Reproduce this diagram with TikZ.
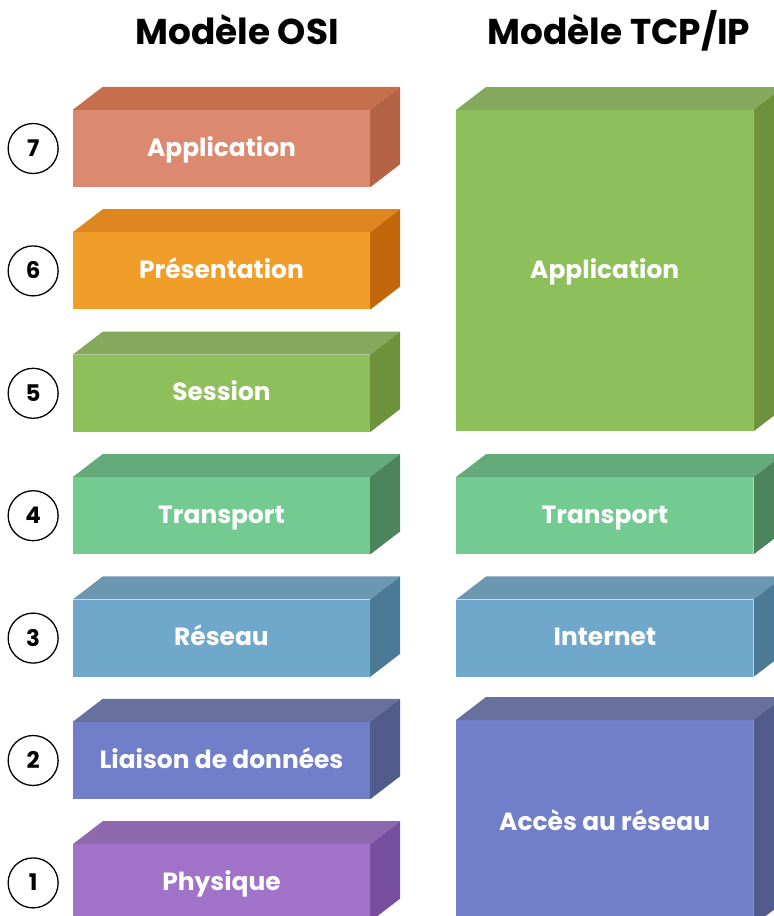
\documentclass[tikz,border=0pt]{standalone}
\usepackage{fontspec}
\setmainfont{Poppins}
\usetikzlibrary{positioning}

% layer colours: front, top, side
\definecolor{appF}{RGB}{219,138,111}  \definecolor{appT}{RGB}{197,111,76}  \definecolor{appS}{RGB}{182,98,68}
\definecolor{preF}{RGB}{240,157,42}   \definecolor{preT}{RGB}{222,134,32}  \definecolor{preS}{RGB}{194,104,12}
\definecolor{sesF}{RGB}{141,191,90}   \definecolor{sesT}{RGB}{133,169,92}  \definecolor{sesS}{RGB}{110,145,60}
\definecolor{traF}{RGB}{116,203,146}  \definecolor{traT}{RGB}{100,170,122} \definecolor{traS}{RGB}{76,132,92}
\definecolor{resF}{RGB}{112,168,203}  \definecolor{resT}{RGB}{108,151,176} \definecolor{resS}{RGB}{74,122,150}
\definecolor{liaF}{RGB}{113,126,202}  \definecolor{liaT}{RGB}{104,112,157} \definecolor{liaS}{RGB}{81,91,140}
\definecolor{phyF}{RGB}{160,115,201}  \definecolor{phyT}{RGB}{141,104,175} \definecolor{phyS}{RGB}{120,79,158}

\tikzset{
  layer/.style={rectangle, inner sep=0pt, minimum width=297bp, minimum height=77bp,
    text height=15bp, text depth=0pt,
    text=white, font=\bfseries\fontsize{25}{30}\selectfont},
  num/.style={circle, draw, line width=1.3bp, minimum size=50bp, inner sep=0pt,
    text height=16bp, text depth=0pt,
    font=\bfseries\fontsize{23}{26}\selectfont},
  title/.style={font=\bfseries\fontsize{36}{42}\selectfont}
}

% top and right faces of a block: node, top colour, side colour
\newcommand{\faces}[3]{
  \fill[#2] (#1.north west) -- ++(30,-23) -- ([shift={(30,-23)}]#1.north east) -- (#1.north east) -- cycle;
  \fill[#3] (#1.north east) -- ++(30,-23) -- ([shift={(30,-23)}]#1.south east) -- (#1.south east) -- cycle;
}

\begin{document}
\begin{tikzpicture}[x=1bp, y=-1bp]
  \useasboundingbox (0,0) rectangle (774,916);
  \clip (0,0) rectangle (774,916);

  % titles
  \node[title, anchor=base] (osititle) at (237,44) {Modèle OSI};
  \node[title, anchor=base] (tcptitle) at (619,44) {Modèle TCP/IP};

  % OSI stack
  \node[layer, fill=appF] (osiapp) at (221.5,148.5) {Application};
  \node[layer, fill=preF, below=45bp of osiapp] (osipre) {Présentation};
  \node[layer, fill=sesF, below=45bp of osipre] (osises) {Session};
  \node[layer, fill=traF, below=45bp of osises] (ositra) {Transport};
  \node[layer, fill=resF, below=45bp of ositra] (osires) {Réseau};
  \node[layer, fill=liaF, below=45bp of osires] (osilia) {Liaison de données};
  \node[layer, fill=phyF, below=45bp of osilia] (osiphy) {Physique};
  \faces{osiapp}{appT}{appS}
  \faces{osipre}{preT}{preS}
  \faces{osises}{sesT}{sesS}
  \faces{ositra}{traT}{traS}
  \faces{osires}{resT}{resS}
  \faces{osilia}{liaT}{liaS}
  \faces{osiphy}{phyT}{phyS}

  % layer numbers
  \node[num, left=14bp of osiapp] (n7) {7};
  \node[num, left=14bp of osipre] (n6) {6};
  \node[num, left=14bp of osises] (n5) {5};
  \node[num, left=14bp of ositra] (n4) {4};
  \node[num, left=14bp of osires] (n3) {3};
  \node[num, left=14bp of osilia] (n2) {2};
  \node[num, left=14bp of osiphy] (n1) {1};

  % TCP/IP stack
  \node[layer, fill=sesF, minimum height=321bp, anchor=north west] (tcpapp) at (456,110) {Application};
  \node[layer, fill=traF, right=86bp of ositra] (tcptra) {Transport};
  \node[layer, fill=resF, right=86bp of osires] (tcpint) {Internet};
  \node[layer, fill=liaF, minimum height=205bp, anchor=north west] (tcpacc) at (456,720) {Accès au réseau};
  \faces{tcpapp}{sesT}{sesS}
  \faces{tcptra}{traT}{traS}
  \faces{tcpint}{resT}{resS}
  \faces{tcpacc}{liaT}{liaS}
\end{tikzpicture}
\end{document}
